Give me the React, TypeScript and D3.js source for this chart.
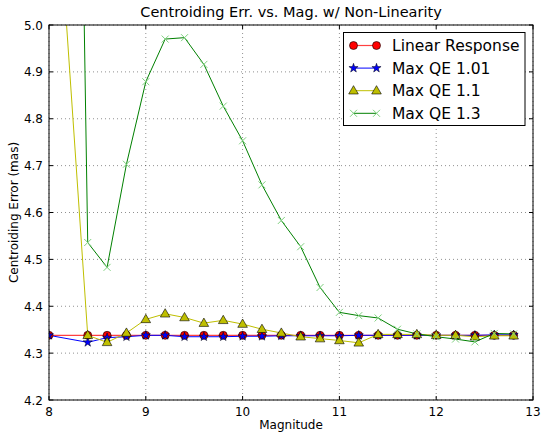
import React from "react";
import * as d3 from "d3";

const mags = [8.0, 8.4, 8.6, 8.8, 9.0, 9.2, 9.4, 9.6, 9.8, 10.0, 10.2, 10.4, 10.6, 10.8, 11.0, 11.2, 11.4, 11.6, 11.8, 12.0, 12.2, 12.4, 12.6, 12.8];
const linearResponse = [4.338, 4.338, 4.338, 4.338, 4.338, 4.338, 4.338, 4.338, 4.338, 4.338, 4.338, 4.338, 4.338, 4.338, 4.338, 4.338, 4.338, 4.338, 4.338, 4.338, 4.338, 4.338, 4.338, 4.338];
const maxQE101 = [4.338, 4.323, 4.333, 4.335, 4.338, 4.338, 4.335, 4.335, 4.335, 4.336, 4.336, 4.337, 4.337, 4.337, 4.337, 4.338, 4.338, 4.338, 4.338, 4.338, 4.338, 4.338, 4.339, 4.339];
const maxQE11 = [5.55, 4.338, 4.323, 4.343, 4.372, 4.384, 4.376, 4.364, 4.370, 4.362, 4.351, 4.343, 4.335, 4.331, 4.327, 4.322, 4.340, 4.340, 4.340, 4.338, 4.338, 4.335, 4.337, 4.337];
const maxQE13 = [9.7, 4.536, 4.483, 4.703, 4.879, 4.970, 4.973, 4.916, 4.827, 4.753, 4.659, 4.583, 4.527, 4.440, 4.387, 4.380, 4.375, 4.351, 4.341, 4.335, 4.330, 4.324, 4.342, 4.341];

const xTicks = [8, 9, 10, 11, 12, 13];
const yTicks = [4.2, 4.3, 4.4, 4.5, 4.6, 4.7, 4.8, 4.9, 5.0];
const seriesNames = ["Linear Response", "Max QE 1.01", "Max QE 1.1", "Max QE 1.3"];

const W = 542, H = 436;
const L = 49, R = 533, T = 25, B = 400;
const FONT = "DejaVu Sans, sans-serif";

type Kind = "circle" | "star" | "tri" | "x";

function Marker({ kind, x, y, color }: { kind: Kind; x: number; y: number; color: string }) {
  if (kind === "circle") return <circle cx={x} cy={y} r={4} fill="#ff0000" stroke="#000" strokeWidth={0.6} />;
  if (kind === "star") {
    const p = d3.symbol().type(d3.symbolStar).size(26)();
    return <path d={p || ""} transform={`translate(${x},${y})`} fill="#0000ff" stroke="#000" strokeWidth={0.5} />;
  }
  if (kind === "tri") {
    const p = d3.symbol().type(d3.symbolTriangle).size(40)();
    return <path d={p || ""} transform={`translate(${x},${y + 0.5})`} fill="#bfbf00" stroke="#000" strokeWidth={0.6} />;
  }
  const s = 3.5;
  return (
    <path d={`M${x - s},${y - s}L${x + s},${y + s}M${x - s},${y + s}L${x + s},${y - s}`} stroke="#7fd07f" strokeWidth={1} fill="none" />
  );
}

export default function App() {
  const x = d3.scaleLinear().domain([8, 13]).range([L, R]);
  const y = d3.scaleLinear().domain([4.2, 5.0]).range([B, T]);
  const series: { vals: number[]; color: string; kind: Kind; lw: number }[] = [
    { vals: linearResponse, color: "#ff4040", kind: "circle", lw: 1.2 },
    { vals: maxQE101, color: "#0000ff", kind: "star", lw: 1 },
    { vals: maxQE11, color: "#bfbf00", kind: "tri", lw: 1 },
    { vals: maxQE13, color: "#008000", kind: "x", lw: 1 },
  ];
  const line = d3.line<[number, number]>().x((d) => x(d[0])).y((d) => y(d[1]));

  return (
    <svg width={W} height={H} style={{ position: "absolute", left: 0, top: 0, background: "#fff" }} fontFamily={FONT}>
      <defs>
        <clipPath id="plot"><rect x={L} y={T} width={R - L} height={B - T} /></clipPath>
      </defs>
      <rect x={0} y={0} width={W} height={H} fill="#fff" />
      {/* grid */}
      {xTicks.map((t) => (
        <line key={"gx" + t} x1={x(t)} x2={x(t)} y1={T} y2={B} stroke="#000" strokeOpacity={0.55} strokeWidth={0.8} strokeDasharray="1,3" />
      ))}
      {yTicks.map((t) => (
        <line key={"gy" + t} x1={L} x2={R} y1={y(t)} y2={y(t)} stroke="#000" strokeOpacity={0.55} strokeWidth={0.8} strokeDasharray="1,3" />
      ))}
      <g clipPath="url(#plot)">
        {series.map((s, i) => (
          <g key={i}>
            <path d={line(mags.map((m, j) => [m, s.vals[j]] as [number, number])) || ""} fill="none" stroke={s.color} strokeWidth={s.lw} />
          </g>
        ))}
      </g>
      <g clipPath="url(#plot)">
        {series.map((s, i) => (
          <g key={i}>
            {mags.map((m, j) => (
              <Marker key={j} kind={s.kind} x={x(m)} y={y(s.vals[j])} color={s.color} />
            ))}
          </g>
        ))}
      </g>
      {/* frame */}
      <rect x={L} y={T} width={R - L} height={B - T} fill="none" stroke="#000" strokeWidth={1} />
      {/* ticks */}
      {xTicks.map((t) => (
        <g key={"tx" + t}>
          <line x1={x(t)} x2={x(t)} y1={B} y2={B - 4} stroke="#000" />
          <line x1={x(t)} x2={x(t)} y1={T} y2={T + 4} stroke="#000" />
          <text x={x(t)} y={B + 16} fontSize={12} textAnchor="middle">{t}</text>
        </g>
      ))}
      {yTicks.map((t) => (
        <g key={"ty" + t}>
          <line x1={L} x2={L + 4} y1={y(t)} y2={y(t)} stroke="#000" />
          <line x1={R} x2={R - 4} y1={y(t)} y2={y(t)} stroke="#000" />
          <text x={L - 6} y={y(t) + 4.5} fontSize={12} textAnchor="end">{t.toFixed(1)}</text>
        </g>
      ))}
      <text x={(L + R) / 2} y={17} fontSize={14.5} textAnchor="middle">Centroiding Err. vs. Mag. w/ Non-Linearity</text>
      <text x={(L + R) / 2} y={429} fontSize={12} textAnchor="middle">Magnitude</text>
      <text transform={`translate(18,${(T + B) / 2}) rotate(-90)`} fontSize={12} textAnchor="middle">Centroiding Error (mas)</text>
      {/* legend */}
      <rect x={343.5} y={32.5} width={181.5} height={93} fill="#fff" stroke="#000" strokeWidth={1} />
      {seriesNames.map((n, i) => {
        const ly = 45.5 + i * 22.6;
        const s = series[i];
        return (
          <g key={n}>
            <line x1={353.5} x2={376.5} y1={ly} y2={ly} stroke={s.color} strokeWidth={s.lw} />
            <Marker kind={s.kind} x={353.5} y={ly} color={s.color} />
            <Marker kind={s.kind} x={376.5} y={ly} color={s.color} />
            <text x={392} y={ly + 5.5} fontSize={15.5}>{n}</text>
          </g>
        );
      })}
    </svg>
  );
}
